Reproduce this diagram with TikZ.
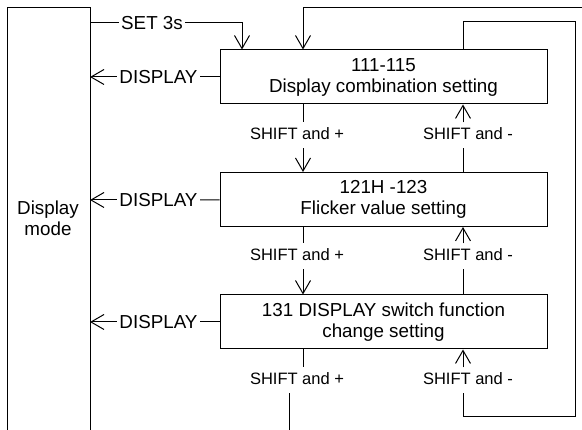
\documentclass[tikz,border=0pt]{standalone}
\usepackage{fontspec}
\setmainfont{Liberation Sans}
\usetikzlibrary{arrows.meta}

\begin{document}
\begin{tikzpicture}[x=1pt, y=-1pt, line width=1pt,
  every node/.style={font=\fontsize{18.8}{21}\selectfont},
  setbox/.style={draw, minimum width=327pt, minimum height=54pt, align=center, inner sep=0pt},
  keylabel/.style={font=\fontsize{16.5}{19}\selectfont, inner sep=0pt, text height=12pt, text depth=3pt, minimum height=25pt},
  modelabel/.style={inner sep=2pt},
  >={Straight Barb[length=13pt, width=15pt]}]
\useasboundingbox (0, 0) rectangle (582, 430);
% display mode frame
\draw (7, 440) -- (7, 8) -- (90, 8) -- (90, 440);
\coordinate (modeR) at (90, 8);
\node [align=center] (mode) at (48, 218) {Display\\mode};
% setting boxes
\node [setbox] (box1) at (383.5, 77) {111-115\\Display combination setting};
\node [setbox] (box2) at (383.5, 199.5) {121H -123\\Flicker value setting};
\node [setbox] (box3) at (383.5, 322) {131 DISPLAY switch function\\change setting};
% display keys
\node [modelabel] (disp1) at (158.5, 77) {DISPLAY};
\node [modelabel] (disp2) at (158.5, 200) {DISPLAY};
\node [modelabel] (disp3) at (158.5, 322) {DISPLAY};
\draw (box1) -- (disp1);
\draw (box2) -- (disp2);
\draw (box3) -- (disp3);
\draw [->] (disp1) -- (disp1 -| modeR);
\draw [->] (disp2) -- (disp2 -| modeR);
\draw [->] (disp3) -- (disp3 -| modeR);
% set key
\node [modelabel] (set) at (152, 23) {SET 3s};
\coordinate (set3) at (242, 23);
\draw (modeR |- set) -- (set);
\draw [->] (set) -- (set3) -- (set3 |- box1.north);
% return from the top
\coordinate (topR) at (595, 8);
\coordinate (topL) at (303, 8);
\draw [->] (topR) -- (topL) -- (topL |- box1.north);
% shift keys
\coordinate (px) at (303, 0);
\coordinate (mx) at (463, 0);
\node [keylabel] (plus1) at (297, 135.5) {SHIFT and +};
\node [keylabel] (minus1) at (468, 135.5) {SHIFT and -};
\node [keylabel] (plus2) at (297, 256.5) {SHIFT and +};
\node [keylabel] (minus2) at (468, 256.5) {SHIFT and -};
\node [keylabel] (plus3) at (297, 380.5) {SHIFT and +};
\node [keylabel] (minus3) at (468, 380.5) {SHIFT and -};
\draw (box1.south -| px) -- (plus1.north -| px);
\draw [->] (plus1.south -| px) -- (box2.north -| px);
\draw (box2.south -| px) -- (plus2.north -| px);
\draw [->] (plus2.south -| px) -- (box3.north -| px);
\draw (box3.south -| px) -- (plus3.north -| px);
\coordinate (px3) at (289, 440);
\draw (plus3.south -| px3) -- (px3);
\draw [->] (minus1.north -| mx) -- (box1.south -| mx);
\draw (box2.north -| mx) -- (minus1.south -| mx);
\draw [->] (minus2.north -| mx) -- (box2.south -| mx);
\draw (box3.north -| mx) -- (minus2.south -| mx);
\draw [->] (minus3.north -| mx) -- (box3.south -| mx);
% loop back to the first box
\coordinate (loopB) at (575, 417);
\coordinate (loopT) at (575, 22);
\draw (minus3.south -| mx) -- (mx |- loopB) -- (loopB) -- (loopT) -- (loopT -| mx) -- (box1.north -| mx);
\end{tikzpicture}
\end{document}
